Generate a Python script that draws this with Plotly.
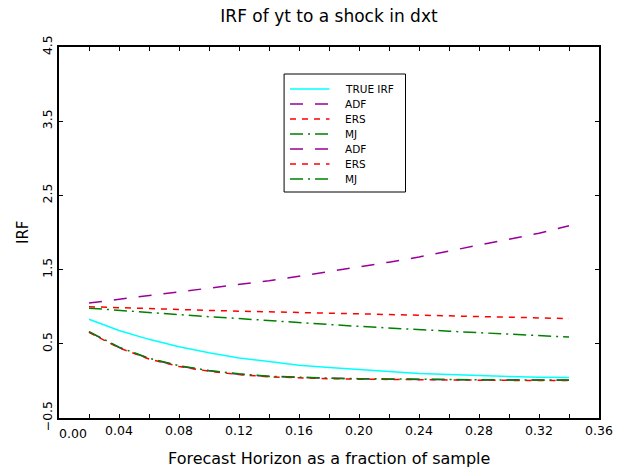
import plotly.graph_objects as go

# Forecast horizon (fraction of sample)
horizon = [0.02, 0.04, 0.06, 0.08, 0.10, 0.12, 0.14, 0.16, 0.18,
           0.20, 0.22, 0.24, 0.26, 0.28, 0.30, 0.32, 0.34]

# Impulse responses of yt to a shock in dxt
true_irf = [0.83, 0.68, 0.56, 0.46, 0.38, 0.31, 0.26, 0.21, 0.18,
            0.15, 0.12, 0.10, 0.085, 0.07, 0.06, 0.05, 0.045]
adf_upper = [1.05, 1.10, 1.14, 1.19, 1.24, 1.29, 1.35, 1.41, 1.47,
             1.53, 1.60, 1.67, 1.75, 1.82, 1.90, 1.99, 2.09]
ers_upper = [1.00, 0.985, 0.97, 0.96, 0.95, 0.94, 0.93, 0.92, 0.91,
             0.90, 0.89, 0.88, 0.87, 0.86, 0.855, 0.845, 0.84]
mj_upper = [0.98, 0.95, 0.92, 0.895, 0.865, 0.84, 0.81, 0.785, 0.76,
            0.735, 0.71, 0.69, 0.67, 0.65, 0.63, 0.61, 0.59]
adf_lower = [0.66, 0.45, 0.30, 0.20, 0.135, 0.09, 0.06, 0.045, 0.035,
             0.028, 0.022, 0.018, 0.015, 0.013, 0.011, 0.010, 0.010]
ers_lower = [0.655, 0.445, 0.295, 0.195, 0.13, 0.085, 0.055, 0.04, 0.03,
             0.023, 0.018, 0.014, 0.011, 0.009, 0.007, 0.006, 0.005]
mj_lower = [0.665, 0.455, 0.305, 0.205, 0.14, 0.095, 0.063, 0.048, 0.038,
            0.03, 0.024, 0.02, 0.017, 0.015, 0.013, 0.012, 0.012]

# Axis ticks
x_ticks = [0.00, 0.02, 0.04, 0.06, 0.08, 0.10, 0.12, 0.14, 0.16, 0.18,
           0.20, 0.22, 0.24, 0.26, 0.28, 0.30, 0.32, 0.34, 0.36]
y_ticks = [-0.5, 0.5, 1.5, 2.5, 3.5, 4.5]

PURPLE, RED, GREEN, CYAN = "#990099", "#FF0000", "#008000", "#00FFFF"
LONG_DASH, SHORT_DASH, DASH_DOT = "13px,12px", "6px,6px", "13px,5px,2px,5px"

series = [
    ("TRUE IRF", true_irf, CYAN, "solid"),
    ("ADF", adf_upper, PURPLE, LONG_DASH),
    ("ERS", ers_upper, RED, SHORT_DASH),
    ("MJ", mj_upper, GREEN, DASH_DOT),
    ("ADF", adf_lower, PURPLE, LONG_DASH),
    ("ERS", ers_lower, RED, SHORT_DASH),
    ("MJ", mj_lower, GREEN, DASH_DOT),
]

FONT = "DejaVu Sans"
W, H = 625, 474
LEFT, RIGHT, TOP, BOTTOM = 59, 606, 47, 418


def paper_x(px):
    return (px - LEFT) / (RIGHT - LEFT)


def paper_y(py):
    return (BOTTOM - py) / (BOTTOM - TOP)


def font(size):
    return dict(family=FONT, size=size, color="black")


fig = go.Figure()
for name, values, color, dash in series:
    fig.add_trace(go.Scatter(
        x=horizon, y=values, mode="lines", name=name, showlegend=False,
        line=dict(color=color, width=1.5, dash=dash),
    ))

# Boxed legend with line samples
shapes = [dict(type="rect", xref="paper", yref="paper",
               x0=paper_x(287), x1=paper_x(410), y0=paper_y(74), y1=paper_y(192),
               line=dict(color="black", width=1), fillcolor="white", layer="above")]
annotations = []
for i, (name, _, color, dash) in enumerate(series):
    row = 89 + 15 * i
    shapes.append(dict(type="line", xref="paper", yref="paper",
                       x0=paper_x(293), x1=paper_x(333),
                       y0=paper_y(row), y1=paper_y(row),
                       line=dict(color=color, width=1.5, dash=dash), layer="above"))
    annotations.append(dict(xref="paper", yref="paper", x=paper_x(347), y=paper_y(row),
                            text=name, showarrow=False, xanchor="left", yanchor="middle",
                            font=font(10.5)))

# Axis titles and the first x tick label (set off the frame)
annotations.append(dict(xref="paper", yref="paper", x=0.5, y=paper_y(458),
                        text="Forecast Horizon as a fraction of sample", showarrow=False,
                        xanchor="center", yanchor="middle", font=font(16)))
annotations.append(dict(xref="paper", yref="paper", x=paper_x(22), y=0.5,
                        text="IRF", showarrow=False, textangle=-90,
                        xanchor="center", yanchor="middle", font=font(15)))
annotations.append(dict(xref="x", yref="paper", x=x_ticks[0], y=paper_y(433),
                        text=f"{x_ticks[0]:.2f}", showarrow=False, xshift=14,
                        xanchor="center", yanchor="middle", font=font(12.5)))

x_text = ["" if (i == 0 or i % 2) else f"{v:.2f}" for i, v in enumerate(x_ticks)]

fig.update_layout(
    width=W, height=H,
    margin=dict(l=LEFT, r=W - RIGHT, t=TOP, b=H - BOTTOM),
    paper_bgcolor="white", plot_bgcolor="white",
    title=dict(text="IRF of yt to a shock in dxt", x=0.5, xref="paper",
               y=1 - 16 / H, yref="container", xanchor="center", yanchor="middle",
               font=font(17)),
    xaxis=dict(range=[0, 0.36], tickvals=x_ticks, ticktext=x_text,
               ticks="inside", ticklen=4, tickwidth=1, tickcolor="black",
               showline=True, linewidth=2, linecolor="black", mirror="ticks",
               showgrid=False, zeroline=False, tickfont=font(12.5)),
    yaxis=dict(range=[-0.5, 4.5], tickvals=y_ticks, tickformat=".1f",
               ticks="inside", ticklen=4, tickwidth=1, tickcolor="black",
               tickangle=-90,
               showline=True, linewidth=2, linecolor="black", mirror="ticks",
               showgrid=False, zeroline=False, tickfont=font(12.5)),
    shapes=shapes,
    annotations=annotations,
)

fig.write_html("out.html")
